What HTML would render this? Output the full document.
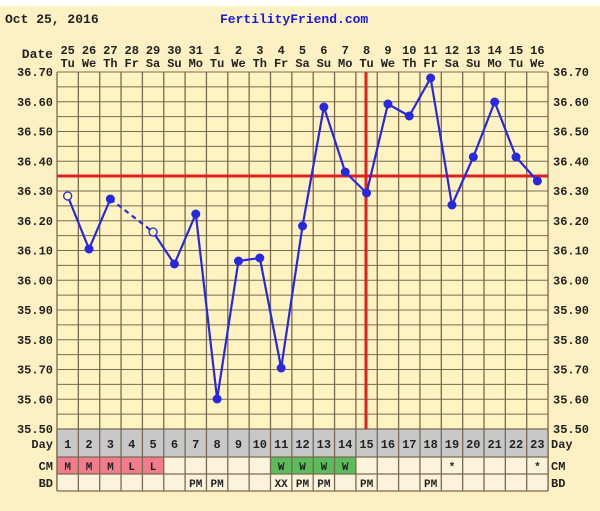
<!DOCTYPE html>
<html><head><meta charset="utf-8"><style>
html,body{margin:0;padding:0;background:#fff;}
svg{display:block;}
text{font-family:"Liberation Mono","DejaVu Sans Mono",monospace;font-weight:bold;font-size:12px;fill:#222;}
</style></head><body>
<svg width="600" height="511" viewBox="0 0 600 511" xmlns="http://www.w3.org/2000/svg">
<rect x="0" y="6" width="600" height="505" fill="#FDF1C3"/>
<text x="5" y="23" style="font-size:13px">Oct 25, 2016</text>
<text x="220" y="23" style="fill:#1a1adc;font-size:13px">FertilityFriend.com</text>
<text x="53" y="58" text-anchor="end" style="font-size:13px">Date</text>
<g id="g"></g>
</svg>
<script>
const NS="http://www.w3.org/2000/svg",g=document.getElementById('g');
function el(t,a,txt){const e=document.createElementNS(NS,t);for(const k in a)e.setAttribute(k,a[k]);if(txt!==undefined)e.textContent=txt;g.appendChild(e);return e;}
const L=57,W=21.35,T=72,B=429,N=23,R=L+N*W;
el('rect',{x:L,y:T,width:R-L,height:B-T,fill:'#FFF3C2'});
const rh=(B-T)/24;
for(let i=0;i<=24;i++)el('line',{x1:L,x2:R,y1:T+i*rh,y2:T+i*rh,stroke:'#7a6a50','stroke-width':1});
for(let i=0;i<=N;i++)el('line',{x1:L+i*W,x2:L+i*W,y1:T,y2:491,stroke:'#7a6a50','stroke-width':1.3});
for(let i=0;i<=12;i++){const t=(36.70-i*0.1).toFixed(2),y=T+i*2*rh+4;
el('text',{x:53,y:y,'text-anchor':'end'},t);el('text',{x:553,y:y},t);}
const dates=[25,26,27,28,29,30,31,1,2,3,4,5,6,7,8,9,10,11,12,13,14,15,16];
const dn=['Tu','We','Th','Fr','Sa','Su','Mo'];
const cx=i=>L+(i+0.5)*W;
// rows
el('rect',{x:L,y:B,width:R-L,height:28,fill:'#C8C8C8'});
el('rect',{x:L,y:457,width:R-L,height:34,fill:'#FCF3DC'});
const ch=['M','M','M','L','L','','','','','','W','W','W','W','','','','','*','','','','*'];
const bd=['','','','','','','PM','PM','','','XX','PM','PM','','PM','','','PM','','','','',''];
for(let i=0;i<N;i++){
 el('text',{x:cx(i),y:54,'text-anchor':'middle'},dates[i]);
 el('text',{x:cx(i),y:67,'text-anchor':'middle'},dn[i%7]);
 el('text',{x:cx(i),y:448,'text-anchor':'middle'},i+1);
 if(ch[i]==='M'||ch[i]==='L')el('rect',{x:L+i*W,y:457,width:W,height:17,fill:'#F07C8C'});
 if(ch[i]==='W')el('rect',{x:L+i*W,y:457,width:W,height:17,fill:'#5CBB5C'});
 el('text',{x:cx(i),y:470,'text-anchor':'middle',style:'font-size:11px'},ch[i]);
 el('text',{x:cx(i),y:487,'text-anchor':'middle',style:'font-size:11px'},bd[i]);
}
for(let i=0;i<=N;i++)el('line',{x1:L+i*W,x2:L+i*W,y1:B,y2:491,stroke:'#7a6a50','stroke-width':1.3});
[B,457,474,491].forEach(y=>el('line',{x1:L,x2:R,y1:y,y2:y,stroke:'#7a6a50','stroke-width':1.3}));
el('text',{x:53,y:448,'text-anchor':'end'},'Day');el('text',{x:551,y:448},'Day');
el('text',{x:53,y:470,'text-anchor':'end'},'CM');el('text',{x:551,y:470},'CM');
el('text',{x:53,y:487,'text-anchor':'end'},'BD');el('text',{x:551,y:487},'BD');
// red lines
el('line',{x1:L,x2:R,y1:176,y2:176,stroke:'#E02020','stroke-width':3});
el('line',{x1:366,x2:366,y1:T,y2:B,stroke:'#E02020','stroke-width':3});
const ys=[196,249,199,null,232,264,214,399,261,258,368,226,107,172,193,104,116,78,205,157,102,157,181];
const blue='#2828E0';
function seg(a,b,d){el('line',{x1:cx(a),y1:ys[a],x2:cx(b),y2:ys[b],stroke:blue,'stroke-width':2.2,'stroke-dasharray':d?'5,4':'none'});}
seg(0,1);seg(1,2);seg(2,4,1);for(let i=4;i<22;i++)seg(i,i+1);
ys.forEach((y,i)=>{if(y===null)return;
 if(i===0||i===4)el('circle',{cx:cx(i),cy:y,r:4,fill:'#FFF3C2',stroke:blue,'stroke-width':1.3});
 else el('circle',{cx:cx(i),cy:y,r:4.5,fill:blue});});
</script>
</body></html>
